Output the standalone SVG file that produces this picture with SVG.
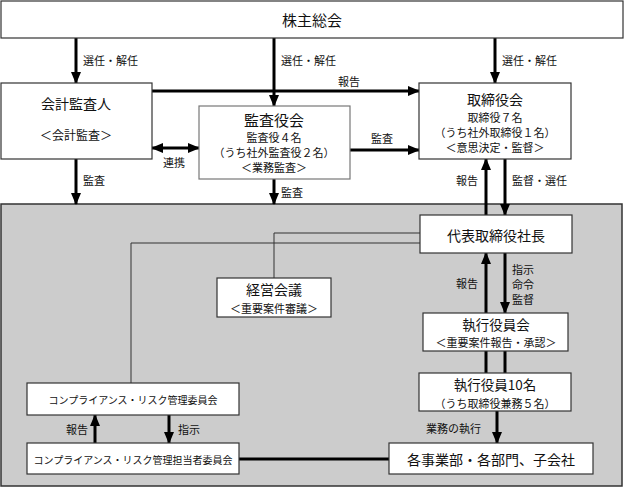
<svg xmlns="http://www.w3.org/2000/svg" width="625" height="487" viewBox="0 0 625 487">
<style>
text{font-family:"Noto Sans CJK JP","Noto Sans",sans-serif;fill:#111;text-anchor:middle;dominant-baseline:central}
.box{fill:#fff;stroke:#333;stroke-width:1.2}
.t15{font-size:15px}.t14{font-size:14px}.t13{font-size:13.5px}.t12{font-size:12px}.t11{font-size:11px}.t10{font-size:10px}
.lbl{font-size:11px;text-anchor:start}
.arr{stroke:#000;stroke-width:3;fill:none}
.thin{stroke:#333;stroke-width:1;fill:none}
</style>
<defs>
<marker id="ah" markerUnits="userSpaceOnUse" markerWidth="12" markerHeight="12" viewBox="0 0 12 12" refX="11" refY="6" orient="auto-start-reverse">
<path d="M0,1 L12,6 L0,11 Z" fill="#000"/>
</marker>
</defs>
<rect x="1" y="204" width="621" height="282" fill="#cccccc" stroke="#333" stroke-width="1.5"/>
<g id="connectors">
<line class="arr" x1="76" y1="38" x2="76" y2="83" marker-end="url(#ah)"/>
<line class="arr" x1="274" y1="38" x2="274" y2="106" marker-end="url(#ah)"/>
<line class="arr" x1="495" y1="38" x2="495" y2="83" marker-end="url(#ah)"/>
<line class="arr" x1="152" y1="91" x2="419" y2="91" marker-end="url(#ah)"/>
<line class="arr" x1="152" y1="148" x2="199" y2="148" marker-start="url(#ah)" marker-end="url(#ah)"/>
<line class="arr" x1="350" y1="150" x2="419" y2="150" marker-end="url(#ah)"/>
<line class="arr" x1="76" y1="159" x2="76" y2="204" marker-end="url(#ah)"/>
<line class="arr" x1="274" y1="179" x2="274" y2="204" marker-end="url(#ah)"/>
<line class="arr" x1="486" y1="215" x2="486" y2="159" marker-end="url(#ah)"/>
<line class="arr" x1="505" y1="159" x2="505" y2="215" marker-end="url(#ah)"/>
<polyline class="thin" points="420,233 274,233 274,278"/>
<polyline class="thin" points="420,243 131,243 131,383"/>
<line class="arr" x1="486" y1="313" x2="486" y2="253" marker-end="url(#ah)"/>
<line class="arr" x1="505" y1="253" x2="505" y2="313" marker-end="url(#ah)"/>
<line class="arr" x1="486" y1="351" x2="486" y2="373"/>
<line class="arr" x1="505" y1="351" x2="505" y2="373"/>
<line class="arr" x1="497" y1="411" x2="497" y2="443" marker-end="url(#ah)"/>
<line class="arr" x1="239" y1="459" x2="389" y2="459"/>
<line class="arr" x1="95" y1="443" x2="95" y2="415" marker-end="url(#ah)"/>
<line class="arr" x1="169" y1="415" x2="169" y2="443" marker-end="url(#ah)"/>
<text class="lbl" x="83" y="60">選任・解任</text>
<text class="lbl" x="281" y="60">選任・解任</text>
<text class="lbl" x="502" y="60">選任・解任</text>
<text class="lbl" x="338" y="81">報告</text>
<text class="lbl" x="163" y="162">連携</text>
<text class="lbl" x="371" y="138">監査</text>
<text class="lbl" x="83" y="180">監査</text>
<text class="lbl" x="281" y="192">監査</text>
<text class="lbl" x="456" y="180">報告</text>
<text class="lbl" x="512" y="180">監督・選任</text>
<text class="lbl" x="456" y="283">報告</text>
<text class="lbl" x="512" y="269">指示</text>
<text class="lbl" x="512" y="284">命令</text>
<text class="lbl" x="512" y="299">監督</text>
<text class="lbl" x="426" y="428">業務の執行</text>
<text class="lbl" x="66" y="429">報告</text>
<text class="lbl" x="178" y="429">指示</text>
</g>
<g id="shareholders">
<rect class="box" x="1" y="1" width="622" height="37"/>
<text class="t15" x="312" y="19">株主総会</text>
</g>
<g id="auditor">
<rect class="box" x="1" y="83" width="151" height="76"/>
<text class="t14" x="76" y="103">会計監査人</text>
<text class="t12" x="76" y="134">＜会計監査＞</text>
</g>
<g id="audit-board">
<rect class="box" x="199" y="106" width="151" height="73" style="stroke:#777"/>
<text class="t15" x="274" y="119">監査役会</text>
<text class="t11" x="274" y="137">監査役４名</text>
<text class="t11" x="274" y="152">（うち社外監査役２名）</text>
<text class="t11" x="274" y="167">＜業務監査＞</text>
</g>
<g id="board">
<rect class="box" x="419" y="83" width="152" height="76"/>
<text class="t14" x="495" y="99">取締役会</text>
<text class="t11" x="495" y="117">取締役７名</text>
<text class="t11" x="495" y="132">（うち社外取締役１名）</text>
<text class="t11" x="495" y="147">＜意思決定・監督＞</text>
</g>
<g id="president">
<rect class="box" x="420" y="215" width="152" height="38"/>
<text class="t14" x="496" y="235">代表取締役社長</text>
</g>
<g id="management-meeting">
<rect class="box" x="217" y="278" width="114" height="39"/>
<text class="t14" x="274" y="289">経営会議</text>
<text class="t11" x="274" y="307.5">＜重要案件審議＞</text>
</g>
<g id="exec-committee">
<rect class="box" x="423" y="313" width="145" height="38"/>
<text class="t13" x="496" y="324">執行役員会</text>
<text class="t11" x="496" y="342">＜重要案件報告・承認＞</text>
</g>
<g id="exec-officers">
<rect class="box" x="419" y="373" width="152" height="38"/>
<text class="t13" x="495" y="384">執行役員10名</text>
<text class="t11" x="495" y="402.5">（うち取締役兼務５名）</text>
</g>
<g id="divisions">
<rect class="box" x="389" y="443" width="204" height="31"/>
<text class="t14" x="491" y="459">各事業部・各部門、子会社</text>
</g>
<g id="compliance-committee">
<rect class="box" x="27" y="383" width="212" height="32"/>
<text class="t10" x="133" y="399">コンプライアンス・リスク管理委員会</text>
</g>
<g id="compliance-staff">
<rect class="box" x="27" y="443" width="212" height="31"/>
<text class="t10" x="133" y="459">コンプライアンス・リスク管理担当者委員会</text>
</g>
</svg>
